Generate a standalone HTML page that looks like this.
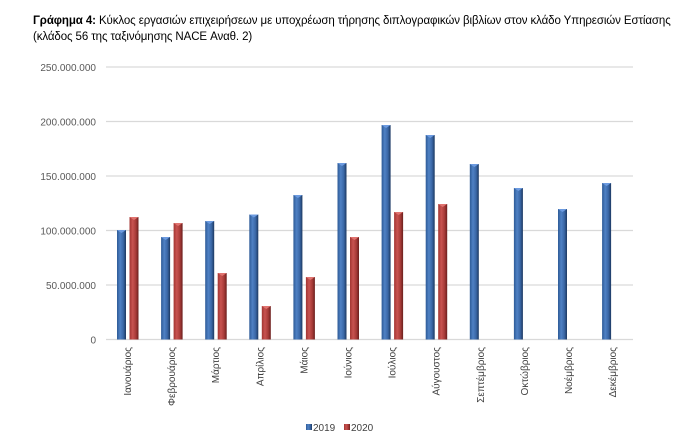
<!DOCTYPE html>
<html><head><meta charset="utf-8"><style>
body{margin:0;background:#fff;width:700px;height:437px;overflow:hidden;font-family:"Liberation Sans","DejaVu Sans",sans-serif}
.t{position:absolute;left:33px;top:13px;font-size:11.5px;color:#000;line-height:16px;letter-spacing:-0.1px}
</style></head><body>
<div class="t"><b>Γράφημα 4:</b> Κύκλος εργασιών επιχειρήσεων με υποχρέωση τήρησης διπλογραφικών βιβλίων στον κλάδο Υπηρεσιών Εστίασης<br>(κλάδος 56 της ταξινόμησης NACE Αναθ. 2)</div>
<svg width="700" height="437" style="position:absolute;left:0;top:0">
<defs>
<linearGradient id="b" x1="0" x2="1"><stop offset="0" stop-color="#2d5a96"/><stop offset="0.35" stop-color="#4f81c4"/><stop offset="0.7" stop-color="#3a67a6"/><stop offset="1" stop-color="#1c3860"/></linearGradient>
<linearGradient id="r" x1="0" x2="1"><stop offset="0" stop-color="#a23532"/><stop offset="0.35" stop-color="#c85350"/><stop offset="0.7" stop-color="#a83b38"/><stop offset="1" stop-color="#6a1f1d"/></linearGradient>
</defs>
<g stroke="#d9d9d9" stroke-width="1.2">
<line x1="106" x2="633" y1="67" y2="67"/><line x1="106" x2="633" y1="121.5" y2="121.5"/><line x1="106" x2="633" y1="176" y2="176"/><line x1="106" x2="633" y1="230.5" y2="230.5"/><line x1="106" x2="633" y1="285" y2="285"/><line x1="106" x2="633" y1="339.5" y2="339.5"/>
</g>
<g font-size="10" fill="#595959" text-anchor="end">
<text x="96" y="71">250.000.000</text><text x="96" y="125.5">200.000.000</text><text x="96" y="180">150.000.000</text><text x="96" y="234.5">100.000.000</text><text x="96" y="289">50.000.000</text><text x="96" y="343.5">0</text>
</g>
<g id="bars"></g>
<g font-size="10" fill="#404040" id="lbl"></g>
<rect x="306" y="424" width="6" height="6" fill="url(#b)"/><text x="313" y="431" font-size="10" fill="#404040">2019</text>
<rect x="344" y="424" width="6" height="6" fill="url(#r)"/><text x="351" y="431" font-size="10" fill="#404040">2020</text>
</svg>
<script>
var blue=[230,237,221,214.5,195,163,125,135,164,188,209,183];
var red=[217,223,273,306,277,237,212,204];
var names=["Ιανουάριος","Φεβρουάριος","Μάρτιος","Απρίλιος","Μάιος","Ιούνιος","Ιούλιος","Αύγουστος","Σεπτέμβριος","Οκτώβριος","Νοέμβριος","Δεκέμβριος"];
var s="",l="";
for(var i=0;i<12;i++){var x=117+i*44.1;
s+='<rect x="'+x+'" y="'+blue[i]+'" width="9" height="'+(339.5-blue[i])+'" fill="url(#b)"/>';
s+='<polygon points="'+x+','+blue[i]+' '+(x+9)+','+blue[i]+' '+(x+4.5)+','+(blue[i]+3)+'" fill="#6d9be0"/>';
if(i<red.length){var xr=x+12.5;s+='<rect x="'+xr+'" y="'+red[i]+'" width="9" height="'+(339.5-red[i])+'" fill="url(#r)"/>';
s+='<polygon points="'+xr+','+red[i]+' '+(xr+9)+','+red[i]+' '+(xr+4.5)+','+(red[i]+3)+'" fill="#e07470"/>';}
var cx=x+14;
l+='<text transform="translate('+cx+',347) rotate(-90)" text-anchor="end">'+names[i]+'</text>';}
document.getElementById("bars").innerHTML=s;document.getElementById("lbl").innerHTML=l;
</script>
</body></html>
